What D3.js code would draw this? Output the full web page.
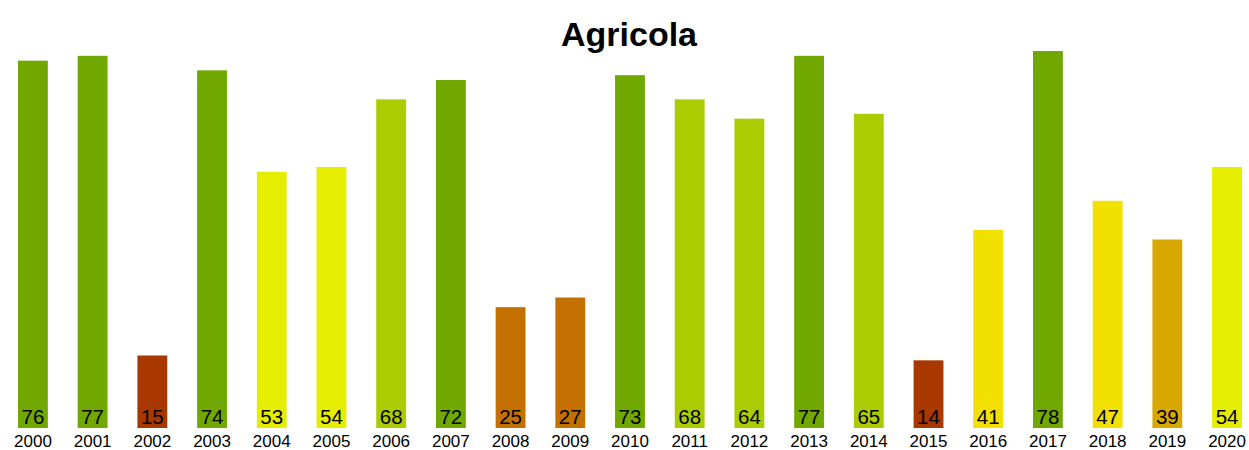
<!DOCTYPE html>
<html>
<head>
<meta charset="utf-8">
<script src="https://cdn.jsdelivr.net/npm/d3@7"></script>
<style>
  body { margin: 0; background: #fff; }
  svg { display: block; font-family: "Liberation Sans", Arial, sans-serif; }
</style>
</head>
<body>
<svg id="chart" width="1249" height="450"></svg>
<script>
const years = ["2000","2001","2002","2003","2004","2005","2006","2007","2008","2009","2010",
  "2011","2012","2013","2014","2015","2016","2017","2018","2019","2020"];
const values = [76, 77, 15, 74, 53, 54, 68, 72, 25, 27, 73, 68, 64, 77, 65, 14, 41, 78, 47, 39, 54];

// colour classes by value
const thresholds = [20, 30, 40, 50, 60, 70];
const palette = ["#a83800", "#c37000", "#d8a800", "#f2e100", "#e5ee00", "#aacc00", "#70a800"];

const width = 1249;
const height = 450;
const baseline = 428;

const svg = d3.select("#chart");

const x = d3.scaleBand()
  .domain(years)
  .range([3.07, 1256.9])
  .paddingInner(0.5)
  .paddingOuter(0.25);

const y = d3.scaleLinear()
  .domain([0, 78])
  .range([baseline, 51]);

const color = d3.scaleThreshold().domain(thresholds).range(palette);

const data = years.map((yr, i) => ({ year: yr, value: values[i] }));

svg.append("text")
  .attr("x", 629)
  .attr("y", 46)
  .attr("text-anchor", "middle")
  .style("font-size", "34px")
  .style("font-weight", "bold")
  .text("Agricola");

const bars = svg.append("g")
  .selectAll("g")
  .data(data)
  .enter()
  .append("g");

bars.append("rect")
  .attr("x", d => x(d.year))
  .attr("y", d => y(d.value))
  .attr("width", x.bandwidth())
  .attr("height", d => baseline - y(d.value))
  .attr("fill", d => color(d.value));

bars.append("text")
  .attr("x", d => x(d.year) + x.bandwidth() / 2)
  .attr("y", baseline - 4)
  .attr("text-anchor", "middle")
  .style("font-size", "20.5px")
  .style("fill", "#000")
  .text(d => d.value);

// year labels
const axis = svg.append("g")
  .attr("transform", `translate(0,${baseline})`)
  .call(d3.axisBottom(x).tickSize(0).tickPadding(7));
axis.select(".domain").remove();
axis.selectAll("text")
  .style("font-size", "17px")
  .style("font-family", "'Liberation Sans', Arial, sans-serif")
  .attr("fill", "#000");
</script>
</body>
</html>
